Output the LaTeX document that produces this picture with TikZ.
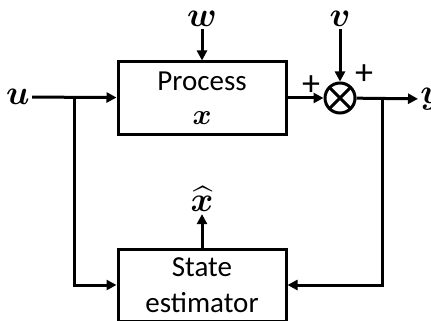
\documentclass[tikz,border=0pt]{standalone}
\usepackage{fontspec}
\usepackage{amsmath,bm}
\setmainfont{Carlito}
\usetikzlibrary{arrows.meta}
\tikzset{
  block/.style={draw,line width=1.5pt,minimum width=84pt,minimum height=36pt,align=center,font=\fontsize{14.5}{18}\selectfont,inner sep=0pt},
  sumnode/.style={draw,circle,line width=1.5pt,minimum size=15pt,inner sep=0pt,
    path picture={\draw[line width=1.5pt] (path picture bounding box.north west) -- (path picture bounding box.south east)
      (path picture bounding box.north east) -- (path picture bounding box.south west);}},
  sig/.style={line width=1.5pt,-{Triangle[length=5pt,width=5pt]}},
  lbl/.style={font=\fontsize{16}{18}\selectfont,inner sep=1pt},
  plus/.style={font=\fontsize{18}{18}\selectfont,inner sep=0pt}
}
\begin{document}
\begin{tikzpicture}[x=0.5pt,y=-0.5pt]
\useasboundingbox (0,0) rectangle (431,320);
\node[block] (proc) at (202,98) {Process\\[-1pt] $\bm{x}$};
\node[block] (est) at (202,285) {State\\ estimator};
\node[sumnode] (sum) at (340,98) {};

\node[lbl] (u) at (18,97) {$\bm{u}$};
\node[lbl] (w) at (202,19) {$\bm{w}$};
\node[lbl] (v) at (340,19) {$\bm{v}$};
\node[lbl,anchor=west] (y) at (418,99) {$\bm{y}$};
\node[lbl] (xh) at (202,199) {$\bm{\widehat{x}}$};
\node[plus] (p1) at (311,86) {+};
\node[plus] (p2) at (364,75) {+};

\coordinate (bu) at (74,98);
\coordinate (by) at (382,98);

\draw[sig] (u) -- (proc);
\draw[sig] (w) -- (proc);
\draw[sig] (v) -- (sum);
\draw[sig] (proc) -- (sum);
\draw[sig] (sum) -- (y);
\draw[sig] (bu) |- (est.west);
\draw[sig] (by) |- (est.east);
\draw[sig] (est) -- (xh);
\end{tikzpicture}
\end{document}
